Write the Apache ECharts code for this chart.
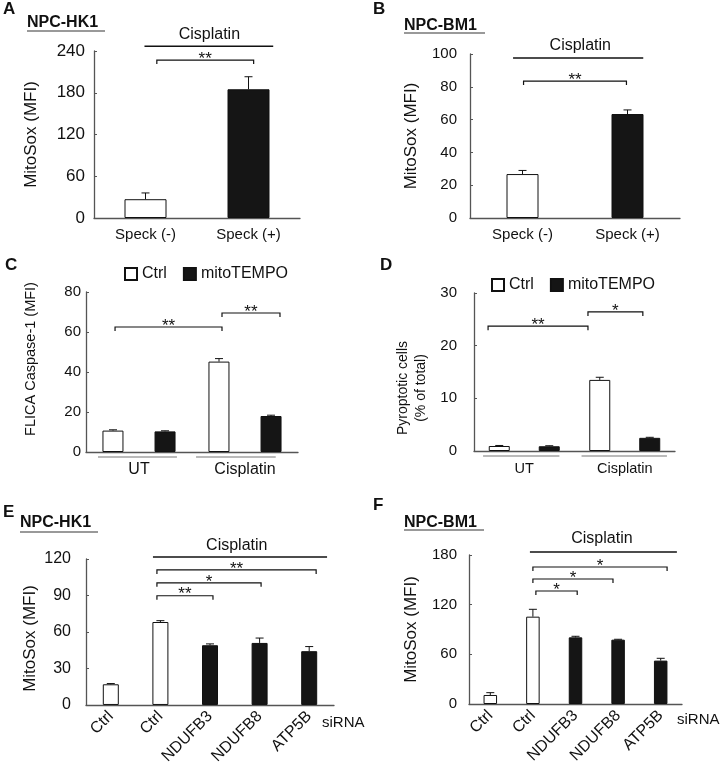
<!DOCTYPE html>
<html><head><meta charset="utf-8">
<script src="https://cdn.jsdelivr.net/npm/echarts@6/dist/echarts.min.js"></script>
<style>html,body{margin:0;padding:0;background:#fff}#c{width:720px;height:767px}</style>
</head><body><div id="c"></div>
<script>
// ---------------- DATA ----------------
const speckCats = ['Speck (-)', 'Speck (+)'];
const hk1SpeckMean = [27, 185];
const hk1SpeckErr = [9, 18];
const bm1SpeckMean = [26.8, 63.4];
const bm1SpeckErr = [2.2, 2.5];

const treatCats = ['UT', 'Cisplatin'];
const flicaCtrl = [10.7, 45.2];
const flicaCtrlErr = [0.4, 1.5];
const flicaMito = [10.3, 18.0];
const flicaMitoErr = [0.3, 0.4];
const pyroCtrl = [0.95, 13.5];
const pyroCtrlErr = [0.1, 0.5];
const pyroMito = [0.9, 2.5];
const pyroMitoErr = [0.1, 0.1];

const sirnaCats = ['Ctrl', 'Ctrl', 'NDUFB3', 'NDUFB8', 'ATP5B'];
const hk1Sirna = [17, 68.2, 49.1, 51, 44.2];
const hk1SirnaErr = [0.6, 1.1, 1.1, 4, 3.8];
const bm1Sirna = [10.9, 105.5, 80.5, 77.7, 52.4];
const bm1SirnaErr = [2.8, 8.9, 1.3, 0.5, 2.8];

const ticksA = [0, 60, 120, 180, 240];
const ticksB = [0, 20, 40, 60, 80, 100];
const ticksC = [0, 20, 40, 60, 80];
const ticksD = [0, 10, 20, 30];
const ticksE = [0, 30, 60, 90, 120];
const ticksF = [0, 60, 120, 180];

const sigA = ['**'];
const sigB = ['**'];
const sigC = ['**', '**'];
const sigD = ['**', '*'];
const sigE = ['**', '*', '**'];
const sigF = ['*', '*', '*'];

// ---------------- RENDERING ----------------
const FONT = '"Liberation Sans", Arial, sans-serif';
const AX = '#555';
const INK = '#111';
const chart = echarts.init(document.getElementById('c'), null, {renderer: 'canvas'});

const grids = [
  {left: 94, top: 51, width: 206, height: 167},
  {left: 470, top: 54, width: 210, height: 164},
  {left: 86, top: 292, width: 212, height: 160},
  {left: 474, top: 293, width: 201, height: 158},
  {left: 86, top: 559, width: 248, height: 147},
  {left: 469, top: 555, width: 213, height: 149}
];

function xAxisCfg(i, cats, o) {
  return Object.assign({
    type: 'category', gridIndex: i, data: cats,
    axisLine: {lineStyle: {color: AX, width: 1.3}},
    axisTick: {show: false},
    axisLabel: {color: INK, fontFamily: FONT, fontSize: 15, margin: 9, interval: 0}
  }, o || {});
}
function yAxisCfg(i, ticks, name, o) {
  return Object.assign({
    type: 'value', gridIndex: i,
    min: ticks[0], max: ticks[ticks.length - 1], interval: ticks[1] - ticks[0],
    axisLine: {show: true, lineStyle: {color: AX, width: 1.3}},
    axisTick: {show: true, inside: true, length: 3, lineStyle: {color: AX}},
    splitLine: {show: false},
    axisLabel: {color: INK, fontFamily: FONT, fontSize: 15, margin: 10},
    name: name, nameLocation: 'middle', nameRotate: 90,
    nameTextStyle: {color: INK, fontFamily: FONT, fontSize: 17}
  }, o || {});
}

function xAt(api, idx) {
  const c0 = api.coord([0, 0])[0];
  const bw = api.size([1, 0])[0];
  return c0 + idx * bw;
}

function errSeries(gi, means, errs, offset) {
  return {
    type: 'custom', xAxisIndex: gi, yAxisIndex: gi, z: 4, silent: true,
    data: means.map((m, i) => [i, m, errs[i]]),
    renderItem(params, api) {
      const i = api.value(0), m = api.value(1), e = api.value(2);
      const p0 = api.coord([i, m]);
      const p1 = api.coord([i, m + e]);
      const x = p0[0] + offset;
      return {type: 'group', children: [
        {type: 'line', shape: {x1: x, y1: p0[1], x2: x, y2: p1[1]}, style: {stroke: INK, lineWidth: 1}},
        {type: 'line', shape: {x1: x - 4, y1: p1[1], x2: x + 4, y2: p1[1]}, style: {stroke: INK, lineWidth: 1}}
      ]};
    }
  };
}

function annoSeries(gi, items) {
  return {
    type: 'custom', xAxisIndex: gi, yAxisIndex: gi, z: 6, silent: true, clip: false,
    data: items.map(a => [a.x1, a.y]),
    renderItem(params, api) {
      const a = items[params.dataIndex];
      const y = api.coord([0, a.y])[1];
      const x1 = xAt(api, a.x1), x2 = xAt(api, a.x2);
      if (a.kind === 'bracket') {
        return {type: 'group', children: [
          {type: 'polyline', shape: {points: [[x1, y + 4], [x1, y], [x2, y], [x2, y + 4]]},
            style: {stroke: INK, lineWidth: 1.2, fill: null}},
          {type: 'text', style: {x: (x1 + x2) / 2, y: y - 1, text: a.label, font: '17px ' + FONT,
            fill: INK, align: 'center', verticalAlign: 'middle'}}
        ]};
      }
      if (a.kind === 'span') {
        const ty = api.coord([0, a.ty])[1];
        return {type: 'group', children: [
          {type: 'line', shape: {x1: x1, y1: y, x2: x2, y2: y}, style: {stroke: INK, lineWidth: 1.5}},
          {type: 'text', style: {x: xAt(api, a.tx), y: ty, text: a.label, font: '16px ' + FONT,
            fill: INK, align: 'center', verticalAlign: 'middle'}}
        ]};
      }
      return {type: 'line', shape: {x1: x1, y1: y, x2: x2, y2: y}, style: {stroke: '#777', lineWidth: 1.2}};
    }
  };
}

const twoTone = (ctrlCount) => (p) => (p.dataIndex < ctrlCount ? '#fff' : '#151515');
function barSeries(gi, name, data, w, ctrlCount) {
  return {
    type: 'bar', name: name, xAxisIndex: gi, yAxisIndex: gi, data: data, barWidth: w, z: 3,
    itemStyle: {color: twoTone(ctrlCount), borderColor: INK, borderWidth: 1}
  };
}

const option = {
  animation: false,
  backgroundColor: '#fff',
  textStyle: {fontFamily: FONT},
  grid: grids,
  legend: [
    {left: 119, top: 261, itemWidth: 12, itemHeight: 12, itemGap: 16, icon: 'rect',
      textStyle: {fontFamily: FONT, fontSize: 16, color: INK}, data: ['Ctrl', 'mitoTEMPO'], selectedMode: false},
    {left: 486, top: 272, itemWidth: 12, itemHeight: 12, itemGap: 16, icon: 'rect',
      textStyle: {fontFamily: FONT, fontSize: 16, color: INK}, data: ['Ctrl', 'mitoTEMPO'], selectedMode: false}
  ],
  xAxis: [
    xAxisCfg(0, speckCats),
    xAxisCfg(1, speckCats),
    xAxisCfg(2, treatCats, {axisLabel: {color: INK, fontFamily: FONT, fontSize: 16, margin: 10}}),
    xAxisCfg(3, treatCats, {axisLabel: {color: INK, fontFamily: FONT, fontSize: 14.5, margin: 10}}),
    xAxisCfg(4, sirnaCats, {axisLabel: {color: INK, fontFamily: FONT, fontSize: 16, margin: 9, rotate: 45, interval: 0}}),
    xAxisCfg(5, sirnaCats, {axisLabel: {color: INK, fontFamily: FONT, fontSize: 16, margin: 9, rotate: 45, interval: 0}})
  ],
  yAxis: [
    yAxisCfg(0, ticksA, 'MitoSox (MFI)', {nameGap: 54, axisLabel: {color: INK, fontFamily: FONT, fontSize: 17, margin: 9}}),
    yAxisCfg(1, ticksB, 'MitoSox (MFI)', {nameGap: 50, axisLabel: {color: INK, fontFamily: FONT, fontSize: 15, margin: 13}}),
    yAxisCfg(2, ticksC, 'FLICA Caspase-1 (MFI)', {nameGap: 48,
      nameTextStyle: {color: INK, fontFamily: FONT, fontSize: 14.5, padding: [0, 0, 0, 26]},
      axisLabel: {color: INK, fontFamily: FONT, fontSize: 15, margin: 5}}),
    yAxisCfg(3, ticksD, 'Pyroptotic cells\n(% of total)', {nameGap: 44,
      nameTextStyle: {color: INK, fontFamily: FONT, fontSize: 14, lineHeight: 18, padding: [0, 32, 0, 0]},
      axisLabel: {color: INK, fontFamily: FONT, fontSize: 15, margin: 17}}),
    yAxisCfg(4, ticksE, 'MitoSox (MFI)', {nameGap: 47,
      nameTextStyle: {color: INK, fontFamily: FONT, fontSize: 17, padding: [0, 13, 0, 0]},
      axisLabel: {color: INK, fontFamily: FONT, fontSize: 16, margin: 15}}),
    yAxisCfg(5, ticksF, 'MitoSox (MFI)', {nameGap: 49, axisLabel: {color: INK, fontFamily: FONT, fontSize: 15, margin: 12}})
  ],
  series: [
    barSeries(0, 'A', hk1SpeckMean, 42, 1),
    errSeries(0, hk1SpeckMean, hk1SpeckErr, 0),
    annoSeries(0, [
      {kind: 'span', x1: -0.01, x2: 1.24, y: 247, tx: 0.62, ty: 264, label: 'Cisplatin'},
      {kind: 'bracket', x1: 0.11, x2: 1.05, y: 227, label: sigA[0]}
    ]),
    barSeries(1, 'B', bm1SpeckMean, 32, 1),
    errSeries(1, bm1SpeckMean, bm1SpeckErr, 0),
    annoSeries(1, [
      {kind: 'span', x1: -0.09, x2: 1.15, y: 97.6, tx: 0.55, ty: 104.9, label: 'Cisplatin'},
      {kind: 'bracket', x1: 0.01, x2: 0.99, y: 83.5, label: sigB[0]}
    ]),
    {type: 'bar', name: 'Ctrl', xAxisIndex: 2, yAxisIndex: 2, data: flicaCtrl, barWidth: 21, barGap: '148%',
      itemStyle: {color: '#fff', borderColor: INK, borderWidth: 1}},
    {type: 'bar', name: 'mitoTEMPO', xAxisIndex: 2, yAxisIndex: 2, data: flicaMito, barWidth: 21, barGap: '148%',
      itemStyle: {color: '#151515', borderColor: INK, borderWidth: 1}},
    errSeries(2, flicaCtrl, flicaCtrlErr, -26),
    errSeries(2, flicaMito, flicaMitoErr, 26),
    annoSeries(2, [
      {kind: 'bracket', x1: -0.226, x2: 0.783, y: 62.5, label: sigC[0]},
      {kind: 'bracket', x1: 0.783, x2: 1.33, y: 69.5, label: sigC[1]},
      {kind: 'under', x1: -0.387, x2: 0.358, y: -2.5},
      {kind: 'under', x1: 0.538, x2: 1.29, y: -2.5}
    ]),
    {type: 'bar', name: 'Ctrl', xAxisIndex: 3, yAxisIndex: 3, data: pyroCtrl, barWidth: 21, barGap: '138%',
      itemStyle: {color: '#fff', borderColor: INK, borderWidth: 1}},
    {type: 'bar', name: 'mitoTEMPO', xAxisIndex: 3, yAxisIndex: 3, data: pyroMito, barWidth: 21, barGap: '138%',
      itemStyle: {color: '#151515', borderColor: INK, borderWidth: 1}},
    errSeries(3, pyroCtrl, pyroCtrlErr, -25),
    errSeries(3, pyroMito, pyroMitoErr, 25),
    annoSeries(3, [
      {kind: 'bracket', x1: -0.36, x2: 0.634, y: 23.7, label: sigD[0]},
      {kind: 'bracket', x1: 0.634, x2: 1.18, y: 26.4, label: sigD[1]},
      {kind: 'under', x1: -0.41, x2: 0.35, y: -0.95},
      {kind: 'under', x1: 0.57, x2: 1.42, y: -0.95}
    ]),
    barSeries(4, 'E', hk1Sirna, 16, 2),
    errSeries(4, hk1Sirna, hk1SirnaErr, 0),
    annoSeries(4, [
      {kind: 'span', x1: 0.85, x2: 4.36, y: 121.6, tx: 2.54, ty: 131.4, label: 'Cisplatin'},
      {kind: 'bracket', x1: 0.93, x2: 4.14, y: 111, label: sigE[0]},
      {kind: 'bracket', x1: 0.93, x2: 3.03, y: 100.4, label: sigE[1]},
      {kind: 'bracket', x1: 0.93, x2: 2.06, y: 89.8, label: sigE[2]}
    ]),
    barSeries(5, 'F', bm1Sirna, 13.5, 2),
    errSeries(5, bm1Sirna, bm1SirnaErr, 0),
    annoSeries(5, [
      {kind: 'span', x1: 0.93, x2: 4.38, y: 183.6, tx: 2.62, ty: 199.3, label: 'Cisplatin'},
      {kind: 'bracket', x1: 1.0, x2: 4.15, y: 165.5, label: sigF[0]},
      {kind: 'bracket', x1: 1.0, x2: 2.88, y: 151, label: sigF[1]},
      {kind: 'bracket', x1: 1.07, x2: 2.04, y: 136.5, label: sigF[2]}
    ])
  ],
  graphic: (function () {
    const g = [];
    const letter = (t, x, y) => g.push({type: 'text', x: x, y: y, style: {text: t, font: 'bold 17px ' + FONT, fill: INK, verticalAlign: 'middle'}});
    const title = (t, x, y, ux2, uy) => {
      g.push({type: 'text', x: x, y: y, style: {text: t, font: 'bold 16px ' + FONT, fill: INK, verticalAlign: 'middle'}});
      g.push({type: 'line', shape: {x1: x, y1: uy, x2: ux2, y2: uy}, style: {stroke: '#777', lineWidth: 1.5}});
    };
    letter('A', 3, 9); letter('B', 373, 9); letter('C', 5, 265); letter('D', 380, 265); letter('E', 3, 512); letter('F', 373, 505);
    title('NPC-HK1', 27, 23, 105, 31);
    title('NPC-BM1', 404, 26, 485, 33);
    title('NPC-HK1', 20, 523, 98, 532);
    title('NPC-BM1', 404, 523, 484, 530);
    g.push({type: 'text', x: 322, y: 723, style: {text: 'siRNA', font: '15px ' + FONT, fill: INK, verticalAlign: 'middle'}});
    g.push({type: 'text', x: 677, y: 720, style: {text: 'siRNA', font: '15px ' + FONT, fill: INK, verticalAlign: 'middle'}});
    return g;
  })()
};
chart.setOption(option);
</script>
</body></html>
